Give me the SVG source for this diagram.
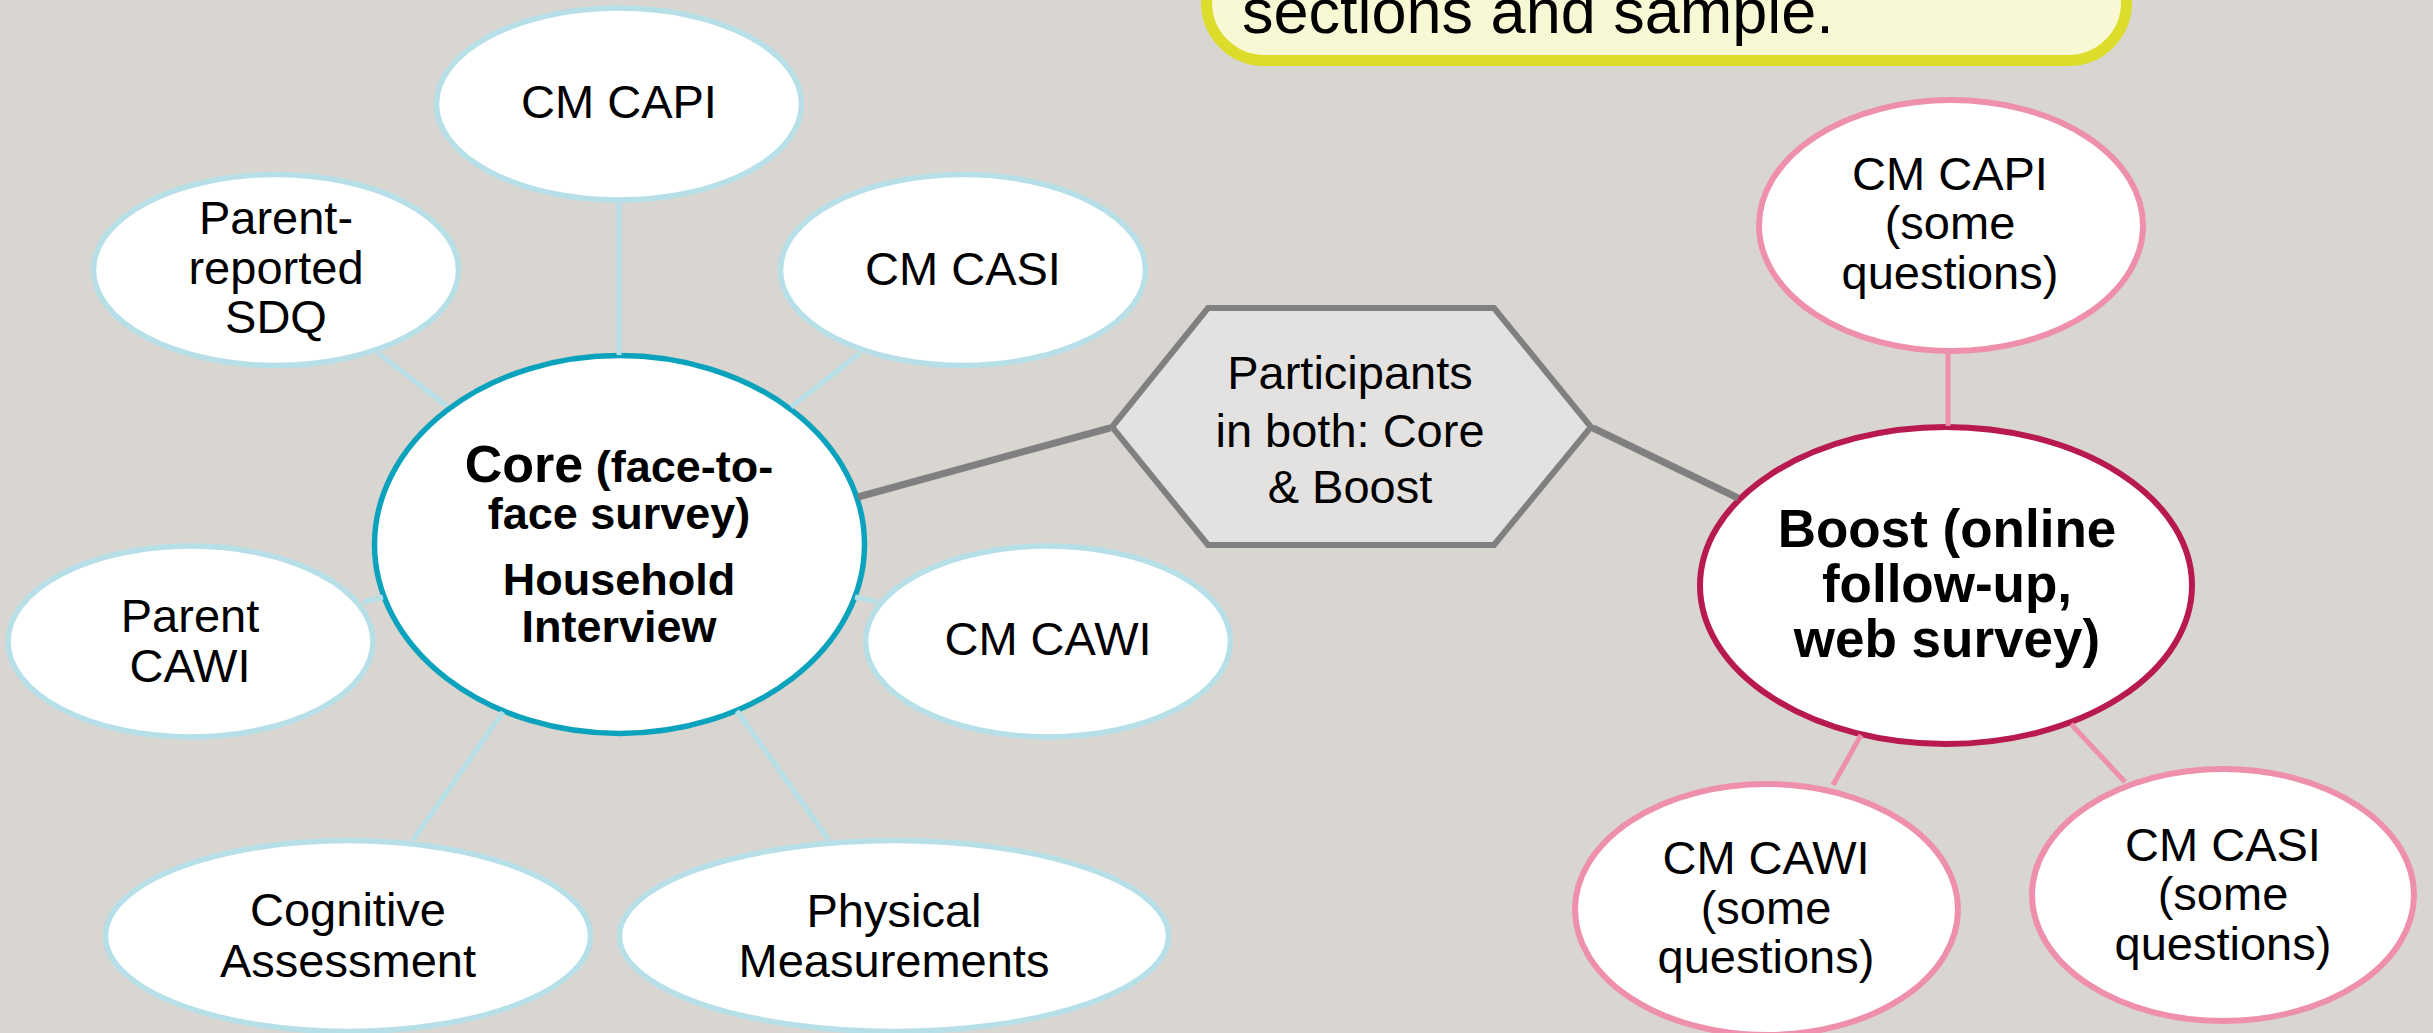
<svg xmlns="http://www.w3.org/2000/svg" width="2433" height="1033" viewBox="0 0 2433 1033">
<style>
.t{font-family:"Liberation Sans",Arial,sans-serif;fill:#000;text-anchor:middle}
.r{font-size:47px}
.b{font-weight:bold}
.sub{fill:#fff;stroke:#b7dfe8;stroke-width:5.5}
.psub{fill:#fff;stroke:#ee8fab;stroke-width:6}
.bl{stroke:#b7dfe8;stroke-width:5;fill:none}
.pk{stroke:#ee8fab;stroke-width:5;fill:none}
.gr{stroke:#808080;stroke-width:7;fill:none}
</style>
<rect x="0" y="0" width="2433" height="1033" fill="#d9d6d1"/>
<g id="note">
<rect x="1206.5" y="-80" width="920" height="140.5" rx="58" ry="58" fill="#f8f8d4" stroke="#dcdc2a" stroke-width="11"/>
<text class="t" x="1242" y="33" style="font-size:63px;text-anchor:start">sections and sample.</text>
</g>
<g id="core">
<ellipse cx="619.5" cy="544.5" rx="245" ry="189" fill="#fff" stroke="#0aa2bc" stroke-width="5.5"/>
<text class="t b" x="619" y="482" style="font-size:45px"><tspan style="font-size:52px">Core</tspan> (face-to-</text>
<text class="t b" x="619" y="529" style="font-size:45px">face survey)</text>
<text class="t b" x="619" y="595" style="font-size:45px">Household</text>
<text class="t b" x="619" y="642" style="font-size:45px">Interview</text>
</g>
<g id="cm-capi">
<ellipse class="sub" cx="619" cy="104" rx="182.5" ry="96"/>
<text class="t r" x="619" y="118">CM CAPI</text>
</g>
<g id="parent-sdq">
<ellipse class="sub" cx="276" cy="270" rx="182.5" ry="95.5"/>
<text class="t r" x="276" y="234">Parent-</text>
<text class="t r" x="276" y="284">reported</text>
<text class="t r" x="276" y="333">SDQ</text>
</g>
<g id="cm-casi">
<ellipse class="sub" cx="963" cy="270" rx="182.5" ry="95.5"/>
<text class="t r" x="963" y="285">CM CASI</text>
</g>
<g id="parent-cawi">
<ellipse class="sub" cx="190.5" cy="641.5" rx="182.5" ry="95.5"/>
<text class="t r" x="190" y="632">Parent</text>
<text class="t r" x="190" y="682">CAWI</text>
</g>
<g id="cm-cawi">
<ellipse class="sub" cx="1048" cy="641.5" rx="182.5" ry="95.5"/>
<text class="t r" x="1048" y="655">CM CAWI</text>
</g>
<g id="cognitive">
<ellipse class="sub" cx="348" cy="936" rx="242.5" ry="95.5"/>
<text class="t r" x="348" y="926">Cognitive</text>
<text class="t r" x="348" y="977">Assessment</text>
</g>
<g id="physical">
<ellipse class="sub" cx="894" cy="936" rx="274.5" ry="95.5"/>
<text class="t r" x="894" y="927">Physical</text>
<text class="t r" x="894" y="977">Measurements</text>
</g>
<g id="both">
<polygon points="1112,427 1208,308 1494,308 1591,427 1494,545 1208,545" fill="#e3e2e0" stroke="#808080" stroke-width="6" stroke-linejoin="miter"/>
<text class="t r" x="1350" y="389">Participants</text>
<text class="t r" x="1350" y="447">in both: Core</text>
<text class="t r" x="1350" y="503">&amp; Boost</text>
</g>
<g id="boost">
<ellipse cx="1946" cy="585.5" rx="246" ry="158.5" fill="#fff" stroke="#b81a50" stroke-width="6"/>
<text class="t b" x="1947" y="547" style="font-size:53px">Boost (online</text>
<text class="t b" x="1947" y="602" style="font-size:53px">follow-up,</text>
<text class="t b" x="1947" y="657" style="font-size:53px">web survey)</text>
</g>
<g id="b-capi">
<ellipse class="psub" cx="1951" cy="225.5" rx="192" ry="125.5"/>
<text class="t r" x="1950" y="190">CM CAPI</text>
<text class="t r" x="1950" y="239">(some</text>
<text class="t r" x="1950" y="289">questions)</text>
</g>
<g id="b-cawi">
<ellipse class="psub" cx="1766.5" cy="909.5" rx="191.5" ry="125.5"/>
<text class="t r" x="1766" y="874">CM CAWI</text>
<text class="t r" x="1766" y="924">(some</text>
<text class="t r" x="1766" y="973">questions)</text>
</g>
<g id="b-casi">
<ellipse class="psub" cx="2223" cy="895" rx="191" ry="126"/>
<text class="t r" x="2223" y="861">CM CASI</text>
<text class="t r" x="2223" y="910">(some</text>
<text class="t r" x="2223" y="960">questions)</text>
</g>
<g id="connectors">
<line class="bl" x1="619" y1="201" x2="619" y2="355"/>
<line class="bl" x1="378" y1="353" x2="447" y2="406"/>
<line class="bl" x1="860" y1="353" x2="791" y2="407"/>
<line class="bl" x1="363" y1="602" x2="383" y2="597"/>
<line class="bl" x1="878" y1="602" x2="855" y2="597"/>
<line class="bl" x1="413" y1="840" x2="503" y2="712"/>
<line class="bl" x1="829" y1="840" x2="737" y2="711"/>
<line class="gr" x1="858" y1="497" x2="1110" y2="428"/>
<line class="gr" x1="1593" y1="428" x2="1738" y2="498"/>
<line class="pk" x1="1948" y1="352" x2="1948" y2="426"/>
<line class="pk" x1="1833" y1="785" x2="1861" y2="735"/>
<line class="pk" x1="2125" y1="782" x2="2071" y2="724"/>
</g>
</svg>
